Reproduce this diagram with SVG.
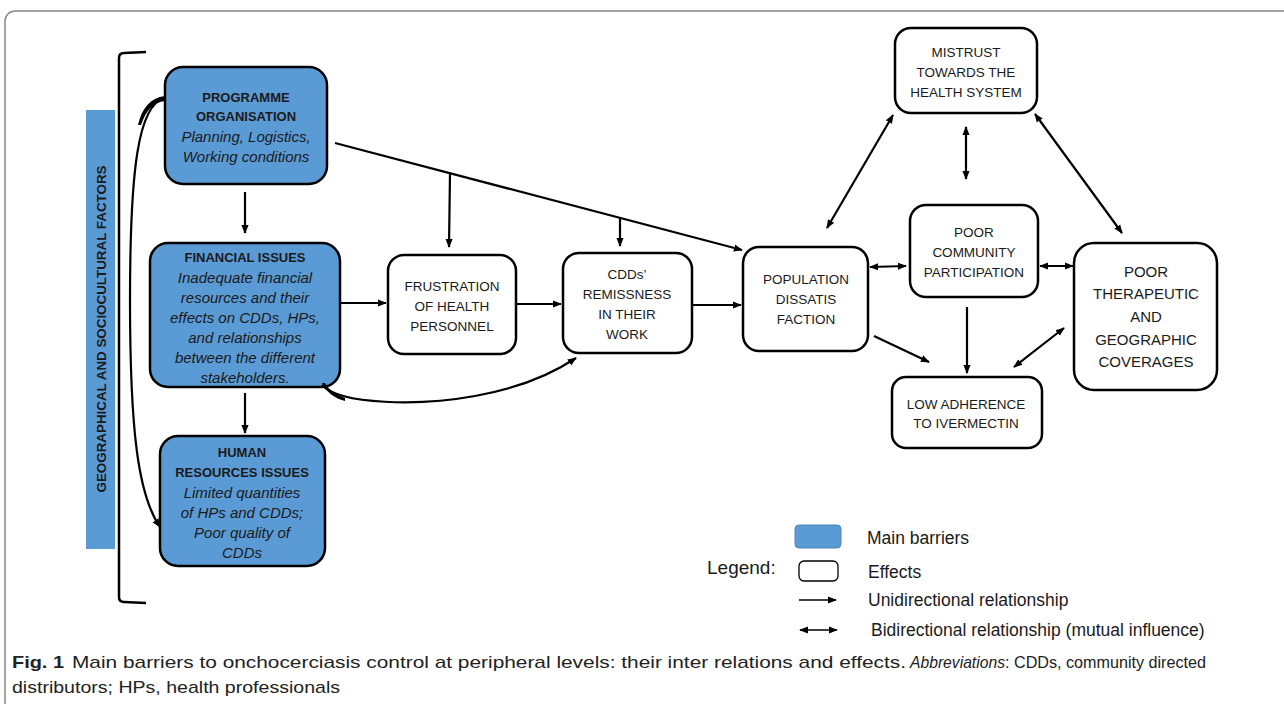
<svg xmlns="http://www.w3.org/2000/svg" width="1284" height="704" viewBox="0 0 1284 704">
<defs>
<style>
.t{font-family:"Liberation Sans",Arial,sans-serif;font-size:13.5px;fill:#1a1a1a;text-anchor:middle}
.b{font-weight:bold;font-size:13px}
.i{font-style:italic;font-size:15px}
.main{fill:#5b9bd5;stroke:#000;stroke-width:2.5}
.eff{fill:#fff;stroke:#000;stroke-width:2.5}
.c{fill:none;stroke:#000;stroke-width:2.2}
.lg{font-family:"Liberation Sans",Arial,sans-serif;font-size:17.5px;fill:#1a1a1a}
.cap{font-family:"Liberation Sans",Arial,sans-serif;font-size:17px;fill:#222}
</style>
<marker id="ah" viewBox="0 0 10 10" refX="9" refY="5" markerWidth="9" markerHeight="9" markerUnits="userSpaceOnUse" orient="auto-start-reverse"><path d="M0,1 L10,5 L0,9 z" fill="#000"/></marker>
</defs>
<rect width="1284" height="704" fill="#fff"/>
<rect x="5" y="11" width="1300" height="720" rx="10" fill="none" stroke="#888" stroke-width="1.5"/>

<g id="bracket">
<path d="M146,52 L124,53 Q119,53 119,58 L119,597 Q119,602 124,602 L146,603" fill="none" stroke="#000" stroke-width="2.5"/>
</g>
<g id="factors">
<rect x="86" y="110" width="29" height="439" fill="#5b9bd5"/>
<text class="t b" transform="translate(106,329) rotate(-90)" textLength="327" lengthAdjust="spacingAndGlyphs">GEOGRAPHICAL AND SOCIOCULTURAL FACTORS</text>
</g>

<g id="programme">
<rect class="main" x="165" y="67" width="162" height="117" rx="18"/>
<text class="t b" x="246" y="102">PROGRAMME</text>
<text class="t b" x="246" y="121">ORGANISATION</text>
<text class="t i" x="246" y="142">Planning, Logistics,</text>
<text class="t i" x="246" y="162">Working conditions</text>
</g>
<g id="financial">
<rect class="main" x="150" y="243" width="190" height="144" rx="18"/>
<text class="t b" x="245" y="262">FINANCIAL ISSUES</text>
<text class="t i" x="245" y="283">Inadequate financial</text>
<text class="t i" x="245" y="303">resources and their</text>
<text class="t i" x="245" y="323">effects on CDDs, HPs,</text>
<text class="t i" x="245" y="343">and relationships</text>
<text class="t i" x="245" y="363">between the different</text>
<text class="t i" x="245" y="383">stakeholders.</text>
</g>
<g id="human">
<rect class="main" x="160" y="436" width="165" height="130" rx="18"/>
<text class="t b" x="242" y="457">HUMAN</text>
<text class="t b" x="242" y="477">RESOURCES ISSUES</text>
<text class="t i" x="242" y="498">Limited quantities</text>
<text class="t i" x="242" y="518">of HPs and CDDs;</text>
<text class="t i" x="242" y="538">Poor quality of</text>
<text class="t i" x="242" y="558">CDDs</text>
</g>
<g id="frustration">
<rect class="eff" x="388" y="255" width="128" height="99" rx="16"/>
<text class="t" x="452" y="291">FRUSTRATION</text>
<text class="t" x="452" y="311">OF HEALTH</text>
<text class="t" x="452" y="331">PERSONNEL</text>
</g>
<g id="remissness">
<rect class="eff" x="563" y="253" width="129" height="100" rx="16"/>
<text class="t" x="627" y="279">CDDs’</text>
<text class="t" x="627" y="299">REMISSNESS</text>
<text class="t" x="627" y="319">IN THEIR</text>
<text class="t" x="627" y="339">WORK</text>
</g>
<g id="population">
<rect class="eff" x="743" y="247" width="125" height="104" rx="16"/>
<text class="t" x="806" y="284">POPULATION</text>
<text class="t" x="806" y="304">DISSATIS</text>
<text class="t" x="806" y="324">FACTION</text>
</g>
<g id="mistrust">
<rect class="eff" x="895" y="28" width="142" height="85" rx="16"/>
<text class="t" x="966" y="57">MISTRUST</text>
<text class="t" x="966" y="77">TOWARDS THE</text>
<text class="t" x="966" y="97">HEALTH SYSTEM</text>
</g>
<g id="participation">
<rect class="eff" x="910" y="205" width="128" height="92" rx="16"/>
<text class="t" x="974" y="237">POOR</text>
<text class="t" x="974" y="257">COMMUNITY</text>
<text class="t" x="974" y="277">PARTICIPATION</text>
</g>
<g id="coverage">
<rect class="eff" x="1074" y="243" width="143" height="147" rx="20"/>
<text class="t" style="font-size:15px" x="1146" y="277">POOR</text>
<text class="t" style="font-size:15px" x="1146" y="299">THERAPEUTIC</text>
<text class="t" style="font-size:15px" x="1146" y="322">AND</text>
<text class="t" style="font-size:15px" x="1146" y="345">GEOGRAPHIC</text>
<text class="t" style="font-size:15px" x="1146" y="367">COVERAGES</text>
</g>
<g id="adherence">
<rect class="eff" x="892" y="377" width="150" height="71" rx="14"/>
<text class="t" x="966" y="409">LOW ADHERENCE</text>
<text class="t" x="966" y="428">TO IVERMECTIN</text>
</g>

<g id="connectors">
<line class="c" x1="245" y1="192" x2="245" y2="233" marker-end="url(#ah)"/>
<line class="c" x1="245" y1="393" x2="245" y2="433" marker-end="url(#ah)"/>
<path class="c" d="M165,98 C138,104 130,170 130,300 C130,430 138,495 160,527" marker-end="url(#ah)"/>
<path d="M165,96 C150,98 142,108 138,125 L141,125 C146,110 154,102 165,101 z" fill="#000"/>
<line class="c" x1="340" y1="303" x2="386" y2="303" marker-end="url(#ah)"/>
<line class="c" x1="516" y1="304" x2="561" y2="304" marker-end="url(#ah)"/>
<line class="c" x1="692" y1="305" x2="741" y2="305" marker-end="url(#ah)"/>
<line class="c" x1="335" y1="143" x2="742" y2="250" marker-end="url(#ah)"/>
<line class="c" x1="450" y1="173" x2="449" y2="247" marker-end="url(#ah)"/>
<line class="c" x1="620" y1="218" x2="620" y2="246" marker-end="url(#ah)"/>
<path class="c" d="M322,385 C340,405 420,406 475,396 C520,388 552,374 576,358" marker-end="url(#ah)"/>
<path d="M322,383 C326,392 334,398 345,401 L345,398 C336,395 329,390 325,383 z" fill="#000"/>
<line class="c" x1="827" y1="228" x2="893" y2="115" marker-start="url(#ah)" marker-end="url(#ah)"/>
<line class="c" x1="966" y1="127" x2="966" y2="179" marker-start="url(#ah)" marker-end="url(#ah)"/>
<line class="c" x1="1035" y1="114" x2="1122" y2="233" marker-start="url(#ah)" marker-end="url(#ah)"/>
<line class="c" x1="870" y1="267" x2="906" y2="266" marker-start="url(#ah)" marker-end="url(#ah)"/>
<line class="c" x1="1040" y1="266" x2="1073" y2="266" marker-start="url(#ah)" marker-end="url(#ah)"/>
<line class="c" x1="874" y1="336" x2="929" y2="362" marker-end="url(#ah)"/>
<line class="c" x1="967" y1="307" x2="967" y2="373" marker-end="url(#ah)"/>
<line class="c" x1="1014" y1="367" x2="1064" y2="328" marker-start="url(#ah)" marker-end="url(#ah)"/>
</g>

<g id="legend">
<rect x="795" y="525" width="46" height="23" rx="4" fill="#5b9bd5" stroke="#4a86c0" stroke-width="1"/>
<text class="lg" x="867" y="544">Main barriers</text>
<text class="lg" style="font-size:19px" x="707" y="574">Legend:</text>
<rect x="799" y="561" width="39" height="20" rx="5" fill="#fff" stroke="#000" stroke-width="1.3"/>
<text class="lg" x="868" y="578">Effects</text>
<line x1="799" y1="600" x2="836" y2="600" stroke="#000" stroke-width="1.3" marker-end="url(#ah)"/>
<text class="lg" x="868" y="606">Unidirectional relationship</text>
<line x1="800" y1="630" x2="837" y2="630" stroke="#000" stroke-width="1.3" marker-start="url(#ah)" marker-end="url(#ah)"/>
<text class="lg" x="871" y="636">Bidirectional relationship (mutual influence)</text>
</g>

<g id="caption">
<text class="cap" x="12" y="668" style="font-weight:bold" textLength="52" lengthAdjust="spacingAndGlyphs">Fig. 1</text>
<text class="cap" x="72" y="668" textLength="834" lengthAdjust="spacingAndGlyphs">Main barriers to onchocerciasis control at peripheral levels: their inter relations and effects.</text>
<text class="cap" x="910" y="668" style="font-style:italic" textLength="95" lengthAdjust="spacingAndGlyphs">Abbreviations</text>
<text class="cap" x="1005" y="668" textLength="201" lengthAdjust="spacingAndGlyphs">: CDDs, community directed</text>
<text class="cap" x="12" y="693" textLength="328" lengthAdjust="spacingAndGlyphs">distributors; HPs, health professionals</text>
</g>
</svg>
